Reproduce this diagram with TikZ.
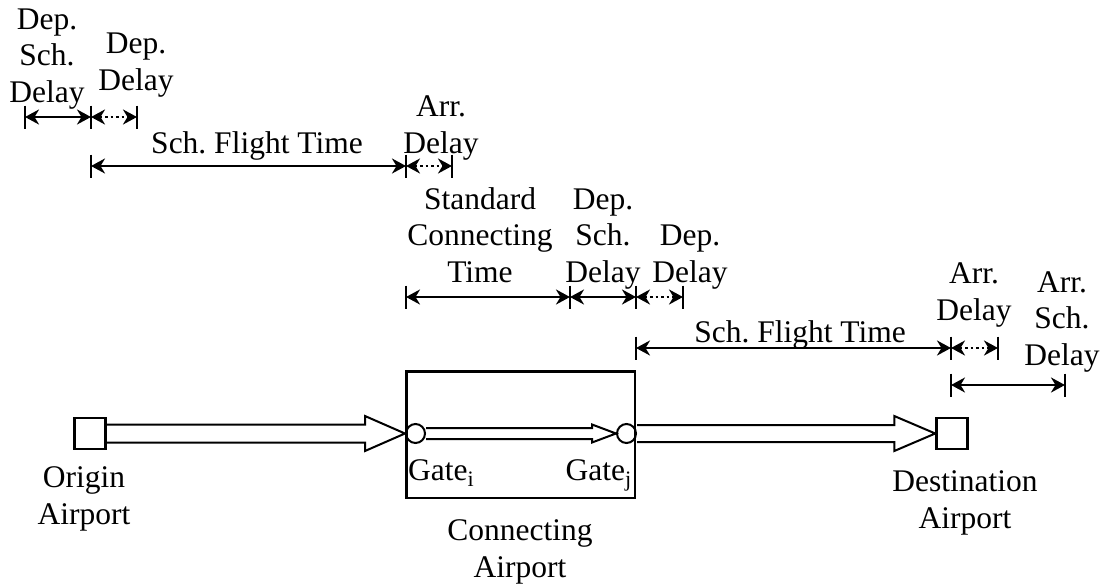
\documentclass[tikz,border=0pt]{standalone}
\usepackage{fontspec}
\setmainfont{Liberation Serif}
\usetikzlibrary{arrows.meta,calc}
\frenchspacing

\begin{document}
\begin{tikzpicture}[x=1pt,y=-1pt,
    font=\fontsize{31.5}{36.5}\selectfont,
    lbl/.style={align=center,inner sep=0pt,anchor=base},
    span/.style={line width=2.5pt,
      {Stealth[length=14pt,width=15pt,inset=4.5pt]}-{Stealth[length=14pt,width=15pt,inset=4.5pt]}},
    slack/.style={span,dash pattern=on 2.5pt off 3pt},
    tick/.style={line width=2.5pt},
    port/.style={draw,line width=2.5pt,minimum size=31pt,inner sep=0pt},
    gate/.style={circle,draw,line width=2pt,minimum size=19pt,inner sep=0pt},
    block/.style={draw,line width=2pt,line join=miter}]

    \useasboundingbox (0,0) rectangle (1107,584);

    % Airports
    \node[port] (orig) at (90,433.5) {};
    \node[port] (dest) at (952,433.5) {};
    \node[draw,line width=2.5pt,minimum width=228.5pt,minimum height=126.5pt]
      (hub) at (520.5,434.5) {};

    % Gates inside the connecting airport
    \node[gate] (gi) at (415.5,433.5) {};
    \node[gate] (gj) at (626.5,433.5) {};

    % Flows between airports and gates
    \draw[block] ($(orig.east)+(0,-9)$) -- ($(gi.west)+(-40,-9)$) -- ++(0,-8.5)
      -- (gi.west) -- ($(gi.west)+(-40,17.5)$) -- ++(0,-8.5) -- ($(orig.east)+(0,9)$);
    \draw[block] ($(gi.east)+(0,-5.5)$) -- ($(gj.west)+(-24,-5.5)$) -- ++(0,-3.5)
      -- (gj.west) -- ($(gj.west)+(-24,9)$) -- ++(0,-3.5) -- ($(gi.east)+(0,5.5)$);
    \draw[block] ($(gj.east)+(0,-8.5)$) -- ($(dest.west)+(-41,-8.5)$) -- ++(0,-9)
      -- (dest.west) -- ($(dest.west)+(-41,17.5)$) -- ++(0,-9) -- ($(gj.east)+(0,8.5)$);

    % Airport and gate labels (placed on the baseline of the last line)
    \node[lbl] (origtxt) at (84,524) {Origin\\Airport};
    \node[lbl,anchor=base west] (gitxt) at (408,480) {Gate\textsubscript{i}};
    \node[lbl,anchor=base east] (gjtxt) at (632,480) {Gate\textsubscript{j}};
    \node[lbl] (hubtxt) at (520,577) {Connecting\\Airport};
    \node[lbl] (desttxt) at (965,528) {Destination\\Airport};

    % Time line end points
    \coordinate (a0) at (25,117);
    \coordinate (a1) at (91,117);
    \coordinate (a2) at (137,117);
    \coordinate (b0) at (91,166);
    \coordinate (b1) at (406,166);
    \coordinate (b2) at (452,166);
    \coordinate (c0) at (406,297);
    \coordinate (c1) at (570,297);
    \coordinate (c2) at (636,297);
    \coordinate (c3) at (683,297);
    \coordinate (d0) at (636,348);
    \coordinate (d1) at (951,348);
    \coordinate (d2) at (998,348);
    \coordinate (e0) at (951,385);
    \coordinate (e1) at (1065,385);

    \foreach \p in {a0,a1,a2,b0,b1,b2,c0,c1,c2,c3,d0,d1,d2,e0,e1}
      \draw[tick] ($(\p)+(0,-11.5)$) -- ($(\p)+(0,11.5)$);

    % First leg
    \draw[span]  (a0) -- (a1);
    \draw[slack] (a1) -- (a2);
    \draw[span]  (b0) -- (b1);
    \draw[slack] (b1) -- (b2);

    % Connection
    \draw[span]  (c0) -- (c1);
    \draw[span]  (c1) -- (c2);
    \draw[slack] (c2) -- (c3);

    % Second leg
    \draw[span]  (d0) -- (d1);
    \draw[slack] (d1) -- (d2);
    \draw[span]  (e0) -- (e1);

    % Time line labels
    \node[lbl] (depsch1) at (47,102)   {Dep.\\Sch.\\Delay};
    \node[lbl] (depdel1) at (136,90)   {Dep.\\Delay};
    \node[lbl] (fly1)    at (257,153)  {Sch. Flight Time};
    \node[lbl] (arrdel1) at (441,153)  {Arr.\\Delay};
    \node[lbl] (conn)    at (480,282)  {Standard\\Connecting\\Time};
    \node[lbl] (depsch2) at (603,282)  {Dep.\\Sch.\\Delay};
    \node[lbl] (depdel2) at (690,282)  {Dep.\\Delay};
    \node[lbl] (fly2)    at (800,342)  {Sch. Flight Time};
    \node[lbl] (arrdel2) at (974,320)  {Arr.\\Delay};
    \node[lbl] (arrsch2) at (1062,365) {Arr.\\Sch.\\Delay};

\end{tikzpicture}
\end{document}
